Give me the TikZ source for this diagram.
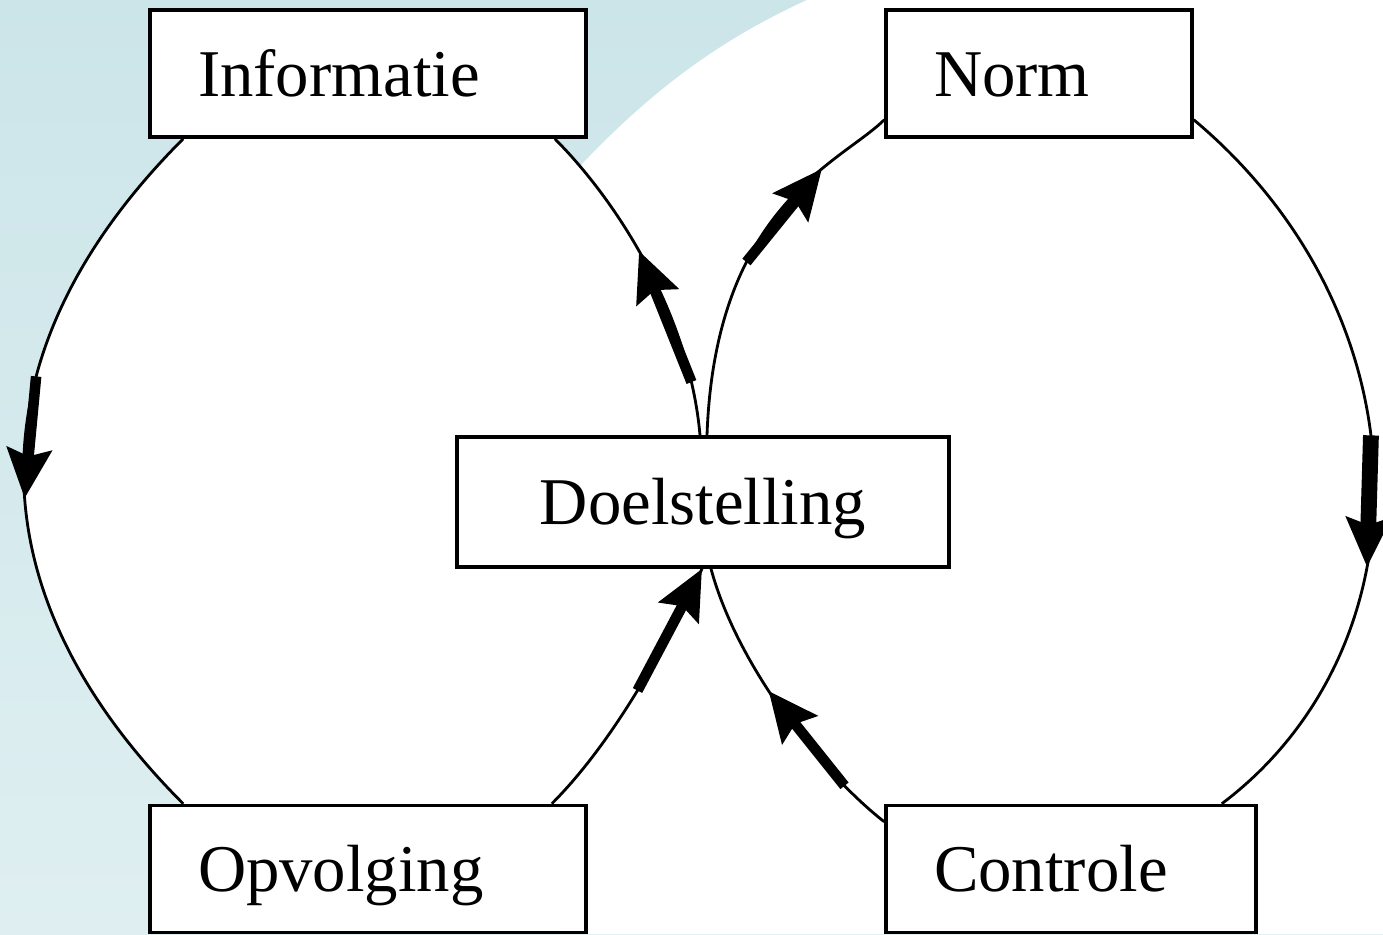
\documentclass[tikz,border=0pt]{standalone}
\usepackage{fontspec}
\setmainfont{Liberation Serif}
\usepackage{xcolor}
\usetikzlibrary{arrows.meta}
\usetikzlibrary{calc}
\usetikzlibrary{backgrounds}

\definecolor{blauwgrijs}{RGB}{204,229,233}
\definecolor{blauwlicht}{RGB}{223,239,241}

\begin{document}
\begin{tikzpicture}[
        blok/.style = {draw, line width=1pt, fill=white, minimum height=1.27cm, inner xsep=0.48cm,
                       text height=13pt, text depth=0pt, font=\fontsize{19}{22}\selectfont},
        lijn/.style = {black, line width=0.8pt},
        pijl/.style = {black, line width=3pt, -{Stealth[length=14pt,width=12.5pt,inset=2pt]}}]

            \useasboundingbox (0,0) rectangle (13.83,9.34);

            % de vijf blokken
            \node[blok, text width=3.40cm, align=left] (info) at (3.68,8.605) {Informatie};
            \node[blok, text width=2.10cm, align=left] (norm) at (10.39,8.605) {Norm};
            \node[blok, minimum width=4.92cm, minimum height=1.30cm] (doel) at (7.03,4.32) {Doelstelling};
            \node[blok, text width=3.40cm, align=left] (opv) at (3.68,0.65) {Opvolging};
            \node[blok, text width=2.74cm, align=left] (ctrl) at (10.71,0.65) {Controle};

            % linkse lus
            \draw[lijn] ([xshift=0.35cm]info.south west) .. controls +(225:3.01) and +(135:3.01) .. ([xshift=0.35cm]opv.north west)
                coordinate[pos=0.36] (a1s) coordinate[pos=0.54] (a1e);
            \draw[lijn] ([xshift=-0.36cm]opv.north east) .. controls +(45:0.8) and +(245:1.0) .. ([xshift=-0.01cm]doel.south)
                coordinate[pos=0.535] (a5s) coordinate[pos=1] (a5e);
            \draw[lijn] ([xshift=-0.03cm]doel.north) .. controls +(95:1.2) and +(-45:0.9) .. ([xshift=-0.33cm]info.south east)
                coordinate[pos=0.15] (a2s) coordinate[pos=0.55] (a2e);

            % rechtse lus
            \draw[lijn] ([xshift=0.04cm]doel.north) .. controls +(88:2.3) and +(225:0.6) .. ([yshift=0.19cm]norm.south west)
                coordinate[pos=0.33] (a3s) coordinate[pos=0.67] (a3e);
            \draw[lijn] ([yshift=0.19cm]norm.south east) .. controls +(-40:3.08) and +(37:2.6) .. ([xshift=-0.36cm]ctrl.north east)
                coordinate[pos=0.445] (a4s) coordinate[pos=0.62] (a4e);
            \draw[lijn] ([yshift=-0.18cm]ctrl.north west) .. controls +(142:0.8) and +(-75:1.0) .. ([xshift=0.08cm]doel.south)
                coordinate[pos=0.2] (a6s) coordinate[pos=0.58] (a6e);

            % dikke pijlen
            \draw[pijl] (a1s) -- (a1e);
            \draw[pijl] (a2s) -- (a2e);
            \draw[pijl] (a3s) -- (a3e);
            \draw[pijl, line width=4.5pt] (a4s) -- (a4e);
            \draw[pijl] (a5s) -- (a5e);
            \draw[pijl] (a6s) -- (a6e);

            \begin{pgfonlayer}{background}
                \shade[top color=blauwgrijs, bottom color=blauwlicht] (0,0) rectangle (13.83,9.34);
                \fill[white] (8.07,9.34) .. controls (7.0,8.85) and (6.2,8.2) .. (5.2,7.0)
                    -- (4.5,4) -- (5.6,0) -- (13.83,0) -- (13.83,9.34) -- cycle;
                \fill[white] ([xshift=0.35cm]info.south west) .. controls +(225:3.01) and +(135:3.01) .. ([xshift=0.35cm]opv.north west)
                    -- ([xshift=-0.36cm]opv.north east) .. controls +(45:0.8) and +(245:1.0) .. ([xshift=-0.01cm]doel.south)
                    -- ([xshift=-0.03cm]doel.north) .. controls +(95:1.2) and +(-45:0.9) .. ([xshift=-0.33cm]info.south east)
                    -- cycle;
            \end{pgfonlayer}
        \end{tikzpicture}
\end{document}
